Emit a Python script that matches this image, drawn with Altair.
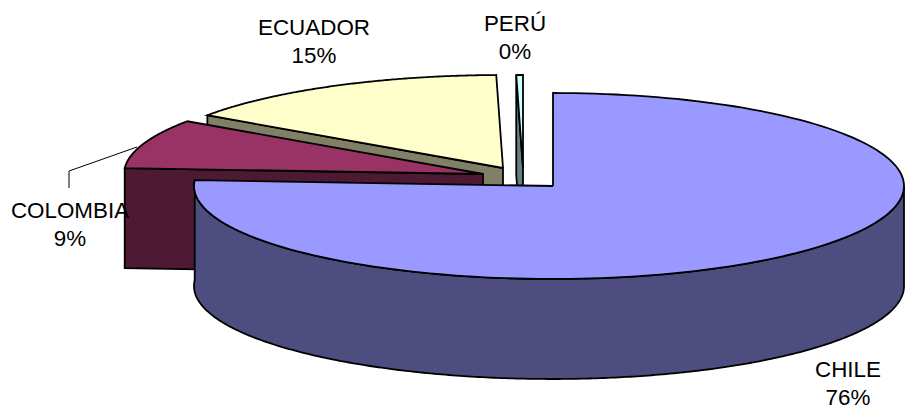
import numpy as np
import pandas as pd
import altair as alt

countries = ["CHILE", "COLOMBIA", "ECUADOR", "PERÚ"]
shares = [76.0, 8.6, 15.1, 0.3]
percent_labels = ["76%", "9%", "15%", "0%"]

top_colors = ["#9999FF", "#993366", "#FFFFCC", "#CCFFFF"]
side_colors = ["#4D4D80", "#4D1933", "#808066", "#668080"]

# Exploded apex of every slice, tilted-ellipse radii and rim depth (page pixels)
apex = {"CHILE": (553, 186), "COLOMBIA": (483, 174), "ECUADOR": (503, 168), "PERÚ": (523, 168)}
RX, RY, DEPTH = 359, 93, 100
RX_RIGHT = 351  # right lobe of the big slice kept inside the drawable width
W, H = 897, 402

ends = np.cumsum(shares) / sum(shares) * 360
starts = np.concatenate([[0], ends[:-1]])
span = dict(zip(countries, zip(starts, ends)))


def rim(name, a, b, n=160):
    cx, cy = apex[name]
    t = np.radians(np.linspace(a, b, n))
    s = np.sin(t)
    rx = np.where(s > 0, RX_RIGHT, RX)
    return cx + rx * s, cy - RY * np.cos(t)


x_scale = alt.Scale(domain=[8, 8 + W], range=[0, W], nice=False, zero=False)
y_scale = alt.Scale(domain=[8 + H, 8], range=[H, 0], nice=False, zero=False)


def poly(xs, ys, fill):
    xs, ys = list(xs), list(ys)
    xs.append(xs[0]); ys.append(ys[0])
    df = pd.DataFrame({"x": xs, "y": ys, "i": range(len(xs))})
    return alt.Chart(df).mark_line(
        fill=fill, stroke="#000000", strokeWidth=1.8, strokeJoin="miter", clip=False
    ).encode(
        x=alt.X("x:Q", scale=x_scale, axis=None),
        y=alt.Y("y:Q", scale=y_scale, axis=None),
        order="i:Q",
    )


def top(name, fill):
    a, b = span[name]
    ax, ay = rim(name, a, b)
    cx, cy = apex[name]
    return poly([cx, *ax], [cy, *ay], fill)


def cut_face(name, angle, fill):
    cx, cy = apex[name]
    ex, ey = rim(name, angle, angle, 1)
    return poly([ex[0], cx, cx, ex[0]], [ey[0], cy, cy + DEPTH, ey[0] + DEPTH], fill)


layers = []
# Perú (furthest back)
layers.append(cut_face("PERÚ", span["PERÚ"][0], side_colors[3]))
layers.append(top("PERÚ", top_colors[3]))
# Ecuador
layers.append(cut_face("ECUADOR", span["ECUADOR"][0], side_colors[2]))
layers.append(top("ECUADOR", top_colors[2]))
# Colombia
layers.append(cut_face("COLOMBIA", span["COLOMBIA"][0], side_colors[1]))
layers.append(top("COLOMBIA", top_colors[1]))
# Chile rim and top
ax, ay = rim("CHILE", 90, span["CHILE"][1], 300)
layers.append(poly([*ax, *ax[::-1]], [*ay, *(ay[::-1] + DEPTH)], side_colors[0]))
layers.append(top("CHILE", top_colors[0]))

# Leader line for COLOMBIA
leader = pd.DataFrame({"x": [69, 69, 137], "y": [188, 171, 147], "i": [0, 1, 2]})
layers.append(
    alt.Chart(leader).mark_line(stroke="#000000", strokeWidth=1).encode(
        x=alt.X("x:Q", scale=x_scale, axis=None),
        y=alt.Y("y:Q", scale=y_scale, axis=None),
        order="i:Q",
    )
)

# Labels: name on the first line, percentage on the second
label_pos = {"CHILE": (848, 370), "COLOMBIA": (70, 211), "ECUADOR": (314, 28), "PERÚ": (515, 24)}
rows = []
for name, pct in zip(countries, percent_labels):
    lx, ly = label_pos[name]
    rows.append({"x": lx, "y": ly, "t": name})
    rows.append({"x": lx, "y": ly + 28, "t": pct})
layers.append(
    alt.Chart(pd.DataFrame(rows)).mark_text(
        font="Liberation Sans", fontSize=22.4, color="#000000", align="center", baseline="middle"
    ).encode(
        x=alt.X("x:Q", scale=x_scale, axis=None),
        y=alt.Y("y:Q", scale=y_scale, axis=None),
        text="t:N",
    )
)

chart = alt.layer(*layers).properties(
    width=W, height=H, padding=0,
    autosize=alt.AutoSizeParams(type="none"),
    background="#FFFFFF",
).configure_view(stroke=None)

chart.save("out.html", embed_options={"renderer": "svg", "actions": False})
